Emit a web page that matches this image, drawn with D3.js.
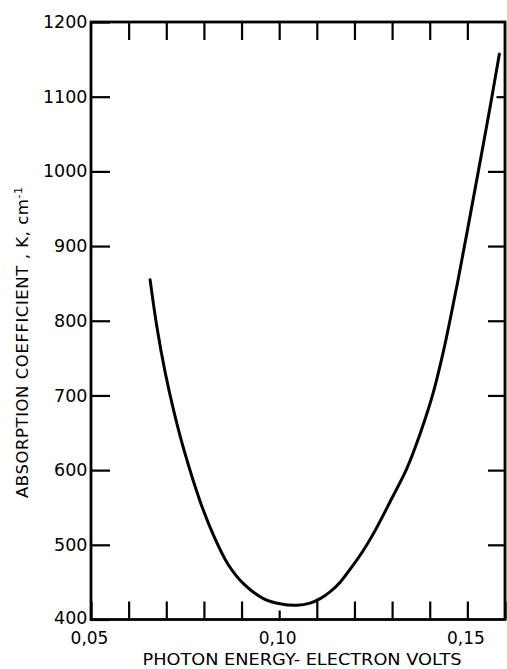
<!DOCTYPE html>
<html>
<head>
<meta charset="utf-8">
<script src="https://cdn.jsdelivr.net/npm/d3@7"></script>
<style>
  html, body { margin: 0; padding: 0; background: #fff; }
  svg { display: block; }
  text { font-family: "DejaVu Sans", sans-serif; fill: #000; }
</style>
</head>
<body>
<script>
// ---- data ----
const photonEnergy = [0.0657, 0.0675, 0.0697, 0.0721, 0.0747, 0.0790, 0.0827, 0.0864, 0.0905,
  0.0958, 0.1002, 0.1047, 0.1082, 0.1109, 0.1135, 0.1162, 0.1194, 0.1223, 0.1257, 0.1295,
  0.1339, 0.1374, 0.1409, 0.1435, 0.1454, 0.1475, 0.1499, 0.1528, 0.1560, 0.1585];
const absorption = [855, 792, 731, 677, 627, 558, 511, 474, 448,
  428, 421, 419, 422, 428, 437, 450, 471, 492, 521, 558,
  602, 648, 703, 756, 801, 854, 918, 997, 1085, 1157];

const xTicks = [0.05, 0.06, 0.07, 0.08, 0.09, 0.10, 0.11, 0.12, 0.13, 0.14, 0.15, 0.16];
const xTickLabels = ["0,05", "", "", "", "", "0,10", "", "", "", "", "0,15", ""];
const yTicks = [400, 500, 600, 700, 800, 900, 1000, 1100, 1200];
const yTickLabels = ["400", "500", "600", "700", "800", "900", "1000", "1100", "1200"];
const xTitle = "PHOTON ENERGY- ELECTRON VOLTS";
const yTitle = "ABSORPTION  COEFFICIENT , K,  cm";
const yTitleSup = "-1";

// ---- layout ----
const W = 507, H = 669;
const mLeft = 91, mRight = 505, mTop = 22, mBottom = 619.5;

const svg = d3.select("body").append("svg").attr("width", W).attr("height", H);

const x = d3.scaleLinear().domain([0.05, 0.16]).range([mLeft, mRight]);
const y = d3.scaleLinear().domain([400, 1200]).range([mBottom, mTop]);

// left axis
const gL = svg.append("g").attr("transform", `translate(${mLeft},0)`)
  .call(d3.axisLeft(y).tickValues(yTicks).tickSizeInner(-19).tickSizeOuter(0).tickPadding(4)
    .tickFormat((d, i) => yTickLabels[i]));
gL.selectAll("text").style("font-size", "17.5px").attr("x", -3.5);
gL.selectAll(".tick").filter(d => d === 400).select("text").attr("y", -1.5);

// right axis (ticks inward, no labels)
const gR = svg.append("g").attr("transform", `translate(${mRight},0)`)
  .call(d3.axisRight(y).tickValues(yTicks.slice(1, -1)).tickSizeInner(-17).tickSizeOuter(0)
    .tickFormat(""));
gR.selectAll(".tick").filter(d => d === 1100).select("line").attr("x2", -8.5);

// bottom axis
const gB = svg.append("g").attr("transform", `translate(0,${mBottom})`)
  .call(d3.axisBottom(x).tickValues(xTicks).tickSizeInner(-18).tickSizeOuter(0).tickPadding(12)
    .tickFormat((d, i) => xTickLabels[i]));
gB.selectAll("text").style("font-size", "17px").attr("x", -2);
gB.selectAll(".tick").filter(d => Math.abs(d - 0.10) < 1e-9).select("line").attr("y2", -9);

// top axis
const gT = svg.append("g").attr("transform", `translate(0,${mTop})`)
  .call(d3.axisTop(x).tickValues(xTicks.slice(1, -1)).tickSizeInner(-18).tickSizeOuter(0)
    .tickFormat(""));

[gL, gR, gB, gT].forEach(g => {
  g.select(".domain").remove();
  g.selectAll(".tick line").attr("stroke", "#000").attr("stroke-width", 2.2);
});

// frame
svg.append("rect")
  .attr("x", mLeft).attr("y", mTop)
  .attr("width", mRight - mLeft).attr("height", mBottom - mTop)
  .attr("fill", "none").attr("stroke", "#000").attr("stroke-width", 2.8);

// curve
const data = photonEnergy.map((e, i) => [e, absorption[i]]);
svg.append("path")
  .datum(data)
  .attr("fill", "none")
  .attr("stroke", "#000")
  .attr("stroke-width", 3)
  .attr("stroke-linecap", "round")
  .attr("stroke-linejoin", "round")
  .attr("d", d3.line().x(d => x(d[0])).y(d => y(d[1])).curve(d3.curveCatmullRom.alpha(0.5)));

// x title
svg.append("text")
  .attr("x", 302).attr("y", 665)
  .attr("text-anchor", "middle")
  .attr("textLength", 319).attr("lengthAdjust", "spacingAndGlyphs")
  .style("font-size", "16px")
  .text(xTitle);

// y title
const yt = svg.append("text")
  .attr("transform", "translate(28,342.5) rotate(-90)")
  .attr("text-anchor", "middle")
  .attr("textLength", 311).attr("lengthAdjust", "spacing")
  .style("font-size", "16.5px");
yt.append("tspan").text(yTitle);
yt.append("tspan").attr("dy", -6).style("font-size", "11px").text(yTitleSup);
</script>
</body>
</html>
